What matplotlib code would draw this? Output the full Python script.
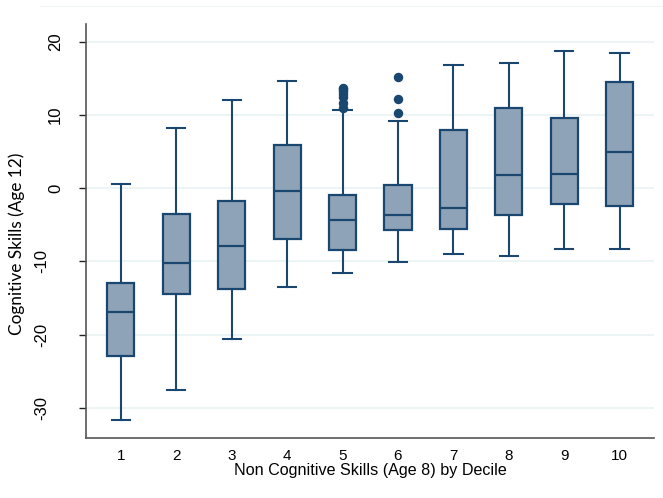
import matplotlib
matplotlib.use("Agg")
import matplotlib.pyplot as plt
import matplotlib.transforms as mtransforms

# summary statistics per decile
deciles = [1, 2, 3, 4, 5, 6, 7, 8, 9, 10]
whislo = [-31.6, -27.6, -20.6, -13.5, -11.6, -10.1, -9.0, -9.3, -8.3, -8.3]
q1 = [-22.9, -14.5, -13.8, -7.0, -8.5, -5.7, -5.6, -3.6, -2.1, -2.5]
med = [-16.9, -10.2, -7.9, -0.4, -4.3, -3.6, -2.7, 1.8, 1.9, 4.9]
q3 = [-13.0, -3.5, -1.8, 5.9, -0.9, 0.4, 7.9, 11.0, 9.6, 14.5]
whishi = [0.5, 8.2, 12.0, 14.6, 10.6, 9.2, 16.8, 17.1, 18.7, 18.4]
fliers = [[], [], [], [],
          [10.9, 11.6, 12.4, 12.9, 13.2, 13.5, 13.7],
          [10.3, 12.1, 15.2],
          [], [], [], []]
yticks = [-30, -20, -10, 0, 10, 20]

navy = "#1a476f"
fill = "#8ea3b7"

fig = plt.figure(figsize=(6.63, 4.98), dpi=100)
ax = fig.add_axes([0.1297, 0.1211, 0.8567, 0.8307])

# faint outline of the plot region along the top
fig.add_artist(plt.Line2D([40 / 663, 1], [1 - 6 / 498, 1 - 6 / 498],
                          transform=fig.transFigure, color="#f2f5f7", linewidth=1))

stats = []
for i in range(len(deciles)):
    stats.append({"whislo": whislo[i], "q1": q1[i], "med": med[i], "q3": q3[i],
                  "whishi": whishi[i], "fliers": fliers[i], "label": str(deciles[i])})

ax.bxp(stats, positions=deciles, widths=0.49, patch_artist=True,
       boxprops=dict(facecolor=fill, edgecolor=navy, linewidth=1.6),
       medianprops=dict(color=navy, linewidth=1.6),
       whiskerprops=dict(color=navy, linewidth=1.5),
       capprops=dict(color=navy, linewidth=1.5),
       capwidths=0.33,
       flierprops=dict(marker="o", markerfacecolor=navy, markeredgecolor=navy,
                       markersize=5.8),
       zorder=3)

ax.set_xlim(0.37, 10.62)
ax.set_ylim(-34.06, 22.4)
ax.set_yticks(yticks)
ax.set_yticklabels([str(t) for t in yticks], rotation=90, va="center")
ax.set_xticks(deciles)
ax.set_xticklabels([str(d) for d in deciles])
ax.grid(axis="y", color="#eaf2f3", linewidth=1.2, zorder=0)
ax.set_axisbelow(True)

for s in ["top", "right"]:
    ax.spines[s].set_visible(False)
for s in ["left", "bottom"]:
    ax.spines[s].set_color("#555555")
    ax.spines[s].set_linewidth(1.2)

ax.tick_params(axis="x", length=0, pad=8, labelsize=11, labelfontfamily="Liberation Sans")
ax.tick_params(axis="y", length=5, width=1, color="#222222", pad=11.5, labelsize=12,
               labelfontfamily="Liberation Sans")

# negative labels sit further out in the original
shift = mtransforms.ScaledTranslation(-14 / 100, 0, fig.dpi_scale_trans)
for lab, t in zip(ax.get_yticklabels(), yticks):
    if t < 0:
        lab.set_transform(lab.get_transform() + shift)

ax.set_xlabel("Non Cognitive Skills (Age 8) by Decile", fontsize=11.6,
              family="Liberation Sans", labelpad=0)
ax.set_ylabel("Cognitive Skills (Age 12)", fontsize=12.4, family="Lato")
ax.yaxis.set_label_coords(-0.107, 0.468)

fig.savefig("out.png", dpi=100)
